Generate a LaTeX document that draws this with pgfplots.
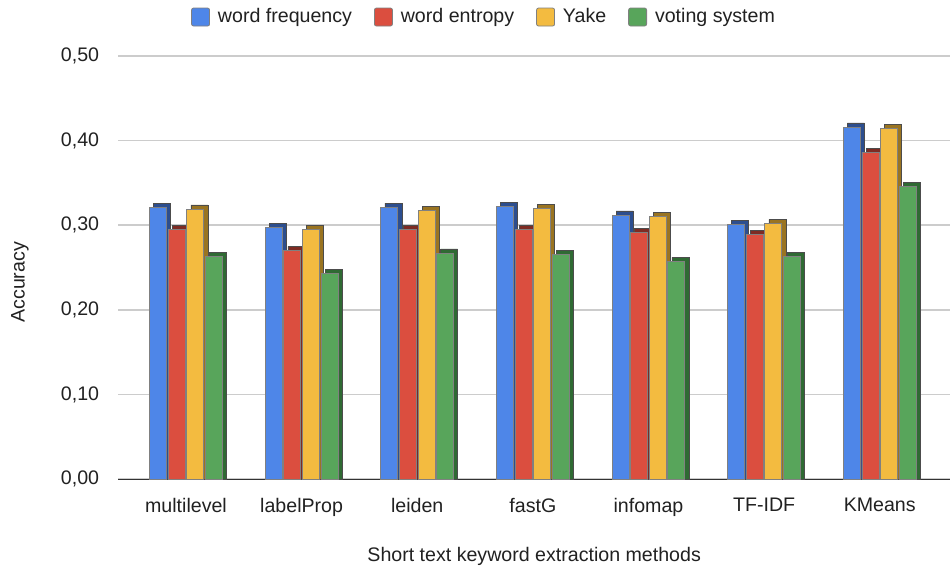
\documentclass[border=0pt]{standalone}
\usepackage{fontspec}
\setmainfont{Liberation Sans}
\usepackage{pgfplots}
\usepackage{pgfplotstable}
\pgfplotsset{compat=1.18}

\definecolor{cblue}{HTML}{4E86E8}
\definecolor{cred}{HTML}{DB4E3F}
\definecolor{cyel}{HTML}{F3BB40}
\definecolor{cgrn}{HTML}{58A55B}
\definecolor{sblue}{HTML}{2C4E8F}
\definecolor{sred}{HTML}{7E2B23}
\definecolor{syel}{HTML}{9A7421}
\definecolor{sgrn}{HTML}{2F6A33}

% accuracy per method
\pgfplotstableread{
x wf    we    yake  vs
0 0.321 0.295 0.319 0.263
1 0.297 0.270 0.295 0.243
2 0.321 0.295 0.317 0.267
3 0.322 0.295 0.320 0.265
4 0.312 0.291 0.310 0.257
5 0.301 0.289 0.302 0.263
6 0.416 0.386 0.414 0.346
}\acc

\begin{document}
\fontsize{9.8}{12}\selectfont
\begin{tikzpicture}
\begin{axis}[
  name=main,
  scale only axis,
  width=416pt, height=211.5pt,
  xmin=-0.588, xmax=6.61,
  ymin=0, ymax=0.5,
  ytick={0,0.1,...,0.5},
  xtick={0,...,6},
  xticklabels={multilevel,labelProp,leiden,fastG,infomap,TF-IDF,KMeans},
  major tick length=0,
  axis line style={draw=none},
  ymajorgrids,
  grid style={draw=black!20, line width=0.75pt},
  extra y ticks={0},
  extra y tick labels={},
  extra y tick style={grid style={draw=black!80, line width=0.5pt}},
  yticklabel style={xshift=-6pt, /pgf/number format/.cd, fixed, fixed zerofill, precision=2, use comma, assume math mode=true},
  xticklabel style={yshift=-6pt},
  ticklabel style={font=\fontsize{9.8}{12}\selectfont, text=black!87},
  xlabel={Short text keyword extraction methods},
  ylabel={Accuracy},
  label style={font=\fontsize{9.8}{12}\selectfont, text=black!87},
  xlabel style={at={(axis description cs:0.5,-0.182)}, anchor=center},
  ylabel style={at={(axis description cs:-0.118,0.465)}, anchor=center, rotate=0},
  bar width=0.147,
  legend columns=-1,
  legend style={draw=none, at={(axis description cs:0.441,1)}, anchor=south, yshift=11pt,
    font=\fontsize{9.8}{12}\selectfont, text=black!87,
    /tikz/every even column/.append style={column sep=9pt},
    /tikz/every odd column/.append style={column sep=2pt}},
  legend image code/.code={\fill[rounded corners=1pt] (0pt,-4.5pt) rectangle (9pt,4.5pt);},
]
% blue
\addplot[ybar, bar shift=-0.206, fill=sblue, draw=black!70, line width=0.3pt, forget plot] table[x=x, y expr=\thisrow{wf}+0.005] {\acc};
\addplot[ybar, bar shift=-0.241, fill=cblue, draw=black!50, line width=0.4pt] table[x=x, y=wf] {\acc};
% red
\addplot[ybar, bar shift=-0.045, fill=sred, draw=black!70, line width=0.3pt, forget plot] table[x=x, y expr=\thisrow{we}+0.005] {\acc};
\addplot[ybar, bar shift=-0.080, fill=cred, draw=black!50, line width=0.4pt] table[x=x, y=we] {\acc};
% yellow
\addplot[ybar, bar shift=0.115, fill=syel, draw=black!70, line width=0.3pt, forget plot] table[x=x, y expr=\thisrow{yake}+0.005] {\acc};
\addplot[ybar, bar shift=0.080, fill=cyel, draw=black!50, line width=0.4pt] table[x=x, y=yake] {\acc};
% green
\addplot[ybar, bar shift=0.276, fill=sgrn, draw=black!70, line width=0.3pt, forget plot] table[x=x, y expr=\thisrow{vs}+0.005] {\acc};
\addplot[ybar, bar shift=0.241, fill=cgrn, draw=black!50, line width=0.4pt] table[x=x, y=vs] {\acc};
\legend{word frequency, word entropy, Yake, voting system}
\end{axis}
% page margins around the plot area
\path (main.south west) ++(-59pt,-46pt);
\path (main.north east) ++(0pt,28pt);
\end{tikzpicture}
\end{document}
